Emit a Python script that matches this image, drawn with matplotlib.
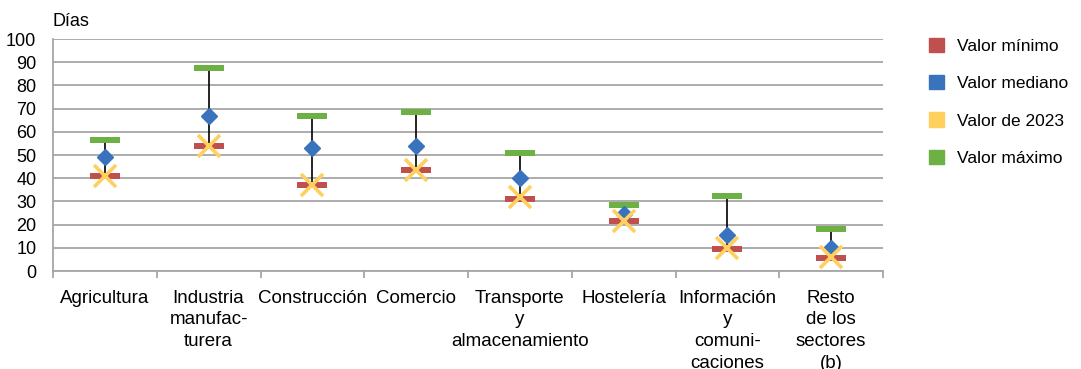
import matplotlib

matplotlib.use("Agg")
import matplotlib.pyplot as plt
import numpy as np
from matplotlib.patches import Patch

plt.rcParams["font.family"] = ["Liberation Sans", "DejaVu Sans"]

sectores = ["Agricultura", "Industria\nmanufac-\nturera", "Construcción", "Comercio",
            "Transporte\ny\nalmacenamiento", "Hostelería",
            "Información\ny\ncomuni-\ncaciones", "Resto\nde los\nsectores\n(b)"]
valor_min = [41, 54, 37, 43.5, 31, 21.5, 9.5, 5.5]
valor_mediano = [49, 67, 53, 54, 40, 24.5, 15.5, 10]
valor_2023 = [41, 54, 37, 43.5, 32, 21.5, 10, 6]
valor_max = [56.5, 87.5, 67, 68.5, 51, 28.5, 32.5, 18]

ROJO, AZUL, AMARILLO, VERDE = "#C0504D", "#3A73BD", "#FFD05E", "#6DB043"
GRIS = "#A6A6A6"

x = np.arange(len(sectores))

fig = plt.figure(figsize=(10.81, 3.69), dpi=100)
ax = fig.add_axes([53 / 1081, 1 - 271 / 369, 830 / 1081, 232 / 369])

# high-low line from minimum to maximum, with flat bars at both ends
ax.vlines(x, valor_min, valor_max, color="black", lw=1.2, zorder=2)
for xi, lo, hi in zip(x, valor_min, valor_max):
    ax.add_patch(plt.Rectangle((xi - 0.145, lo - 1.3), 0.29, 2.6, color=ROJO, zorder=3, lw=0))
    ax.add_patch(plt.Rectangle((xi - 0.145, hi - 1.3), 0.29, 2.6, color=VERDE, zorder=3, lw=0))
ax.plot(x, valor_mediano, ls="none", marker="D", ms=8.5, color=AZUL, mec=AZUL, zorder=4)
ax.plot(x, valor_2023, ls="none", marker="x", ms=15.5, mew=2.6, color=AMARILLO, zorder=5)

ax.set_xlim(-0.5, len(sectores) - 0.5)
ax.set_ylim(0, 100)
ax.set_yticks(np.arange(0, 101, 10))
ax.yaxis.grid(True, color=GRIS, lw=1.3)
ax.set_axisbelow(True)
ax.set_xticks(x)
ax.set_xticklabels(sectores, fontsize=13.5, linespacing=1.36, va="top")
ax.set_xticks(np.arange(-0.5, len(sectores)), minor=True)
ax.tick_params(axis="x", which="major", length=0, pad=13.5)
ax.tick_params(axis="x", which="minor", length=5, color=GRIS, width=1.3)
ax.tick_params(axis="y", length=0, labelsize=13, pad=12)
for side in ["top", "right"]:
    ax.spines[side].set_visible(False)
for side in ["left", "bottom"]:
    ax.spines[side].set_color(GRIS)
    ax.spines[side].set_linewidth(1.3)

fig.text(52 / 1081, 1 - 21 / 369, "Días", fontsize=13, va="center", ha="left")

handles = [Patch(color=ROJO, label="Valor mínimo"),
           Patch(color=AZUL, label="Valor mediano"),
           Patch(color=AMARILLO, label="Valor de 2023"),
           Patch(color=VERDE, label="Valor máximo")]
fig.legend(handles=handles, loc="upper left", bbox_to_anchor=(913 / 1081, 1 - 22 / 369),
           frameon=False, fontsize=12.5, handlelength=0.9, handleheight=0.9,
           handletextpad=0.75, labelspacing=1.22)

fig.savefig("out.png", dpi=100)
